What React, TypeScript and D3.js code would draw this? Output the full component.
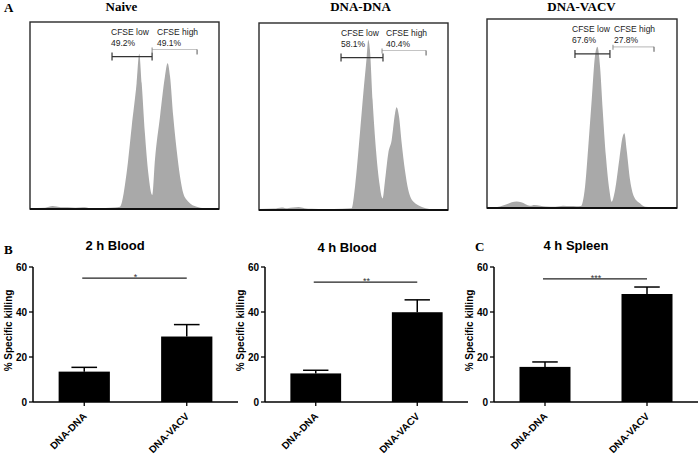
import React from 'react';
import * as d3 from 'd3';

// ---------- Data ----------
const histTitles = ['Naive', 'DNA-DNA', 'DNA-VACV'];
const lowPct = ['49.2%', '58.1%', '67.6%'];
const highPct = ['49.1%', '40.4%', '27.8%'];

// [channel (% of axis), count (% of max)]
const naiveHist: [number, number][] = [
  [0, 0.6], [8, 0.7], [10, 1.2], [12, 1.6], [14, 1.4], [17, 0.9], [20, 1.0], [24, 0.7], [28, 0.9], [32, 0.5], [40, 0.6],
  [45, 0.8], [47.6, 1.2], [51.1, 19.1], [53.8, 44], [56.4, 67.2], [57.8, 83], [59.1, 67.2], [60.8, 40.5],
  [62.6, 19.1], [64.7, 7.5], [66.1, 26.2], [68.8, 49.4], [71.4, 70.8], [72.8, 77.9], [74.1, 70.8],
  [75.8, 49.4], [77.6, 31.6], [79.4, 17.3], [81.1, 8.4], [83.8, 3.9], [88.2, 1.2], [92, 0.4], [100, 0.3],
];
const dnaDnaHist: [number, number][] = [
  [0, 0.6], [8, 0.8], [12, 1.4], [15, 1.0], [18, 1.3], [21, 1.6], [24, 1.0], [28, 0.7], [35, 0.6], [44, 0.7],
  [49.0, 0.9], [50.8, 12.5], [53.4, 41.0], [55.2, 62.4], [57.0, 82.0], [57.8, 90.9], [58.7, 85.6],
  [60.1, 58.8], [61.9, 32.1], [63.7, 14.3], [65.4, 6.2], [66.7, 16.0], [68.4, 30.3], [70.2, 37.4],
  [72.0, 51.7], [72.8, 54.9], [74.1, 49.9], [75.5, 35.7], [77.2, 21.4], [79.0, 10.7], [81.6, 4.5],
  [86.9, 1.4], [92, 0.4], [100, 0.3],
];
const dnaVacvHist: [number, number][] = [
  [0, 0.3], [4, 0.4], [6.8, 0.8], [10, 1.8], [13, 3.0], [15.6, 3.5], [18, 3.0], [22.6, 1.2], [25, 1.6],
  [28, 1.2], [31, 0.8], [36, 0.7], [40, 1.2], [44, 1.0], [47, 0.9], [49.3, 1.0], [51.6, 11.3],
  [53.3, 32.4], [55.1, 57.1], [56.8, 80.1], [58.1, 85.3], [59.5, 74.8], [60.9, 51.9], [62.6, 27.2],
  [64.4, 9.5], [65.6, 3.3], [67.4, 9.5], [69.6, 25.4], [71.4, 37.7], [72.3, 39.5], [73.5, 30.7],
  [75.3, 14.8], [77.4, 6.0], [80.5, 2.5], [83.2, 0.7], [90, 0.3], [100, 0.2],
];
const histData = [naiveHist, dnaDnaHist, dnaVacvHist];
const gateLow: [number, number][] = [[43.4, 64.6], [43.4, 65.6], [46.3, 64.7]];
const gateHigh: [number, number][] = [[64.6, 88.4], [65.1, 88.4], [66.3, 87.9]];

const barTitles = ['2 h Blood', '4 h Blood', '4 h Spleen'];
const groups = ['DNA-DNA', 'DNA-VACV'];
const means2hBlood = [13.5, 29.1];
const sem2hBlood = [1.9, 5.3];
const means4hBlood = [12.7, 39.9];
const sem4hBlood = [1.4, 5.5];
const means4hSpleen = [15.6, 48.0];
const sem4hSpleen = [2.2, 3.1];
const barMeans = [means2hBlood, means4hBlood, means4hSpleen];
const barSems = [sem2hBlood, sem4hBlood, sem4hSpleen];
const sigLabels = ['*', '**', '***'];
const sigLevels = [55.1, 53.3, 54.7];
const yTicks = [0, 20, 40, 60];

// ---------- Layout ----------
const W = 700;
const H = 456;
const ARIAL = "'Liberation Sans', Arial, sans-serif";
const TIMES = "'Liberation Serif', 'Times New Roman', serif";
const boxes = [
  { x: 30, y: 22, w: 189, h: 187, title: 121.5, lowTx: 111, highTx: 157 },
  { x: 259, y: 23, w: 189, h: 187, title: 360.5, lowTx: 341, highTx: 386 },
  { x: 487, y: 19, w: 190, h: 189, title: 581.5, lowTx: 572, highTx: 614 },
];
const barPanels = [
  { x0: 33, x1: 238, titleY: 250 },
  { x0: 265, x1: 468, titleY: 252 },
  { x0: 494, x1: 698, titleY: 250 },
];

function HistPanel({ i }: { i: number }) {
  const b = boxes[i];
  const x = d3.scaleLinear().domain([0, 100]).range([b.x, b.x + b.w]);
  const y = d3.scaleLinear().domain([0, 100]).range([b.y + b.h, b.y]);
  const area = d3
    .area<[number, number]>()
    .x((d) => x(d[0]))
    .y0(y(0))
    .y1((d) => y(d[1]))
    .curve(d3.curveMonotoneX);
  const gl = gateLow[i];
  const gh = gateHigh[i];
  const yl = y(81.5);
  const yh = y(85.3);
  return (
    <g>
      <text x={b.title} y={11} textAnchor="middle" fontFamily={TIMES} fontWeight="bold" fontSize={13}>
        {histTitles[i]}
      </text>
      <defs>
        <clipPath id={`clip${i}`}>
          <rect x={b.x} y={b.y} width={b.w} height={b.h} />
        </clipPath>
      </defs>
      <path d={area(histData[i]) || ''} fill="#a9a9a9" clipPath={`url(#clip${i})`} />
      <text x={b.lowTx} y={b.y + 13} fontFamily={ARIAL} fontSize={8.5} fill="#222">CFSE low</text>
      <text x={b.lowTx} y={b.y + 24} fontFamily={ARIAL} fontSize={8.5} fill="#222">{lowPct[i]}</text>
      <text x={b.highTx} y={b.y + 13} fontFamily={ARIAL} fontSize={8.5} fill="#222">CFSE high</text>
      <text x={b.highTx} y={b.y + 24} fontFamily={ARIAL} fontSize={8.5} fill="#222">{highPct[i]}</text>
      {/* high gate */}
      <line x1={x(gh[0])} x2={x(gh[1])} y1={yh} y2={yh} stroke="#c4c4c4" strokeWidth={1.2} />
      <line x1={x(gh[0])} x2={x(gh[0])} y1={yh - 2} y2={yh + 3} stroke="#888" strokeWidth={1} />
      <line x1={x(gh[1])} x2={x(gh[1])} y1={yh} y2={yh + 5} stroke="#555" strokeWidth={1} />
      {/* low gate */}
      <line x1={x(gl[0])} x2={x(gl[1])} y1={yl} y2={yl} stroke="#333" strokeWidth={1.3} />
      <line x1={x(gl[0])} x2={x(gl[0])} y1={yl - 4} y2={yl + 4} stroke="#333" strokeWidth={1.2} />
      <line x1={x(gl[1])} x2={x(gl[1])} y1={yl - 4} y2={yl + 4} stroke="#333" strokeWidth={1.2} />
      <rect x={b.x} y={b.y} width={b.w} height={b.h} fill="none" stroke="#2a2a2a" strokeWidth={1.4} />
      <line x1={b.x} x2={b.x + b.w} y1={b.y + b.h} y2={b.y + b.h} stroke="#111" strokeWidth={2} />
    </g>
  );
}

function BarPanel({ i }: { i: number }) {
  const p = barPanels[i];
  const x = d3.scaleBand<string>().domain(groups).range([p.x0, p.x1]).paddingInner(0.5).paddingOuter(0.25);
  const y = d3.scaleLinear().domain([0, 60]).range([402, 267]);
  const means = barMeans[i];
  const sems = barSems[i];
  const bw = x.bandwidth();
  const cx = (g: string) => (x(g) as number) + bw / 2;
  return (
    <g>
      <text x={p.x0 + 82} y={p.titleY} textAnchor="middle" fontFamily={ARIAL} fontWeight="bold" fontSize={13}>
        {barTitles[i]}
      </text>
      {groups.map((g, j) => (
        <g key={g}>
          <rect x={x(g)} y={y(means[j])} width={bw} height={y(0) - y(means[j])} fill="#000" />
          <line x1={cx(g)} x2={cx(g)} y1={y(means[j])} y2={y(means[j] + sems[j])} stroke="#000" strokeWidth={1.5} />
          <line x1={cx(g) - bw / 4} x2={cx(g) + bw / 4} y1={y(means[j] + sems[j])} y2={y(means[j] + sems[j])} stroke="#000" strokeWidth={1.5} />
          <line x1={cx(g)} x2={cx(g)} y1={y(0)} y2={y(0) + 4} stroke="#000" strokeWidth={1.3} />
          <text
            transform={`translate(${cx(g) + 3},${y(0) + 15}) rotate(-45)`}
            textAnchor="end"
            fontFamily={ARIAL}
            fontWeight="bold"
            fontSize={10}
          >
            {g}
          </text>
        </g>
      ))}
      {/* axes */}
      <line x1={p.x0} x2={p.x0} y1={y(0)} y2={y(60)} stroke="#000" strokeWidth={1.5} />
      <line x1={p.x0} x2={p.x1} y1={y(0)} y2={y(0)} stroke="#000" strokeWidth={1.5} />
      {yTicks.map((t) => (
        <g key={t}>
          <line x1={p.x0 - 4} x2={p.x0} y1={y(t)} y2={y(t)} stroke="#000" strokeWidth={1.3} />
          <text x={p.x0 - 6} y={y(t)} dy="0.35em" textAnchor="end" fontFamily={ARIAL} fontWeight="bold" fontSize={10}>
            {t}
          </text>
        </g>
      ))}
      <text
        transform={`translate(${p.x0 - 21},${(y(0) + y(60)) / 2 - 4}) rotate(-90)`}
        textAnchor="middle"
        fontFamily={ARIAL}
        fontWeight="bold"
        fontSize={10}
      >
        % Specific killing
      </text>
      {/* significance */}
      <line x1={cx(groups[0]) - 2} x2={cx(groups[1])} y1={y(sigLevels[i])} y2={y(sigLevels[i])} stroke="#222" strokeWidth={1.3} />
      <text x={(cx(groups[0]) + cx(groups[1])) / 2} y={y(sigLevels[i]) + 2} textAnchor="middle" fontFamily={ARIAL} fontSize={9} fill="#333">
        {sigLabels[i]}
      </text>
    </g>
  );
}

export default function App() {
  return (
    <svg
      width={W}
      height={H}
      viewBox={`0 0 ${W} ${H}`}
      style={{ position: 'fixed', left: 0, top: 0, background: '#fff' }}
    >
      <rect width={W} height={H} fill="#fff" />
      <text x={4} y={12} fontFamily={TIMES} fontWeight="bold" fontSize={13}>A</text>
      <text x={4} y={254} fontFamily={TIMES} fontWeight="bold" fontSize={13}>B</text>
      <text x={475} y={251} fontFamily={TIMES} fontWeight="bold" fontSize={13}>C</text>
      {[0, 1, 2].map((i) => (
        <HistPanel key={i} i={i} />
      ))}
      {[0, 1, 2].map((i) => (
        <BarPanel key={i} i={i} />
      ))}
    </svg>
  );
}
